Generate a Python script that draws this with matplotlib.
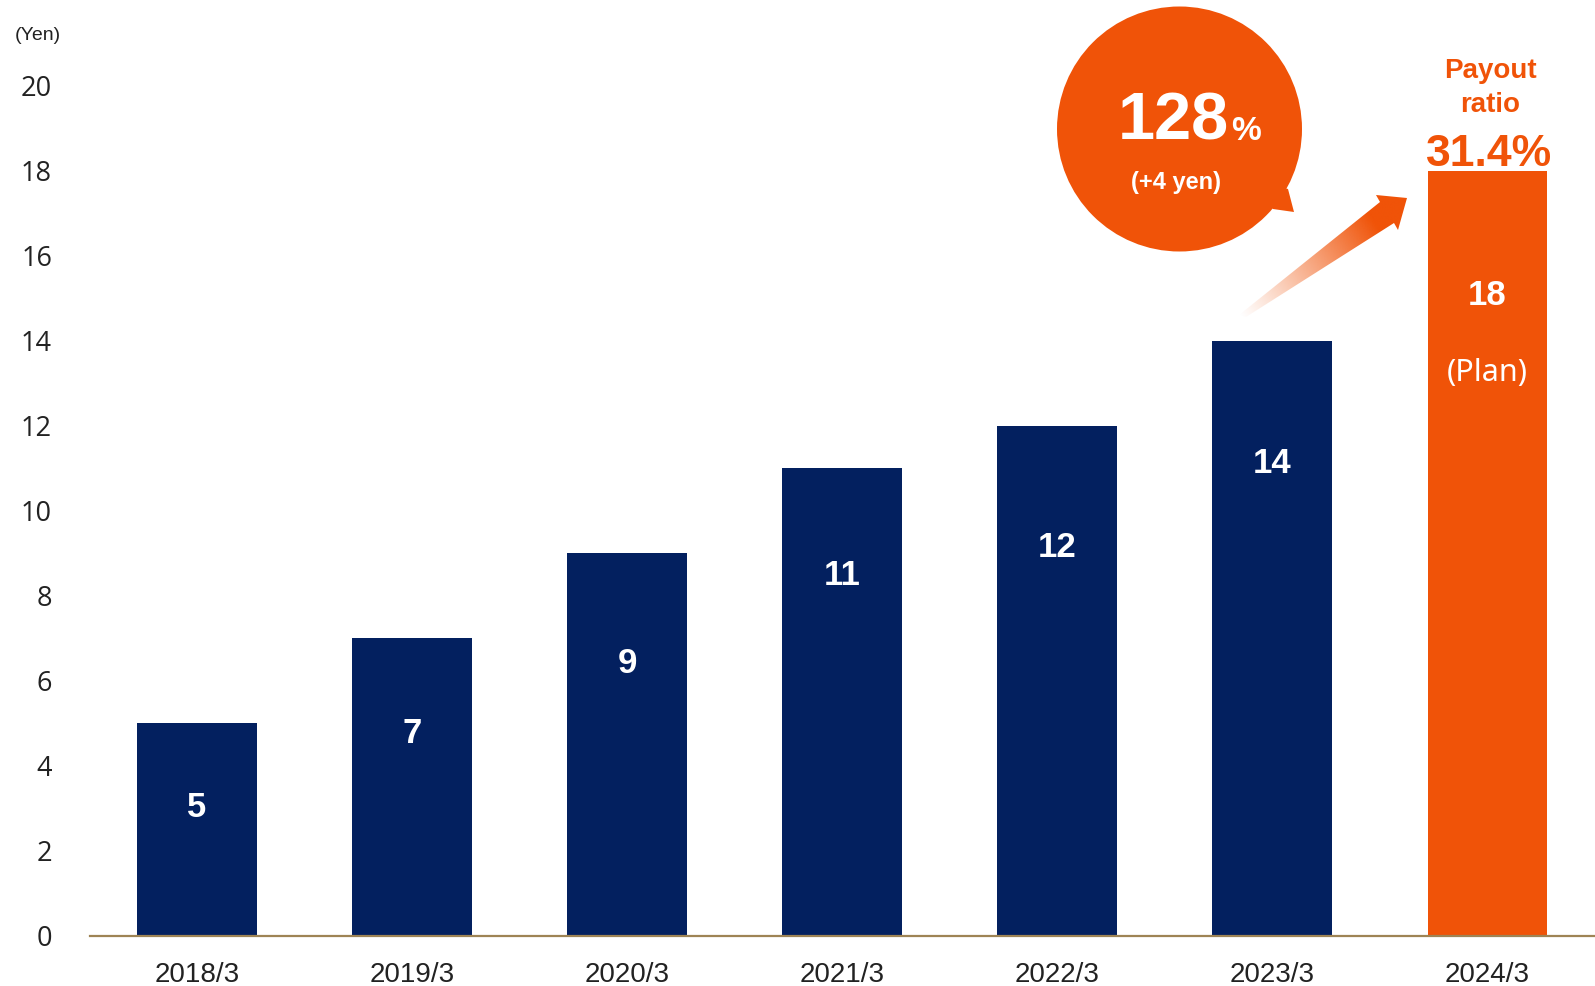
import matplotlib
matplotlib.use('Agg')
import matplotlib.pyplot as plt
import numpy as np
from matplotlib.patches import Circle, Polygon

# ---- data ----
categories = ['2018/3', '2019/3', '2020/3', '2021/3', '2022/3', '2023/3', '2024/3']
dividends = [5, 7, 9, 11, 12, 14, 18]
value_labels = ['5', '7', '9', '11', '12', '14', '18']
yticks = [0, 2, 4, 6, 8, 10, 12, 14, 16, 18, 20]
growth_text = '128'
growth_sub = '(+4 yen)'
payout_text = '31.4%'

# ---- layout / style ----
label_y = [3.02, 4.76, 6.41, 8.47, 9.14, 11.1, 15.07]
plan_y = 13.25
NAVY = '#03205F'
ORANGE = '#F05308'
W, H = 1595, 986
FONT = ['Liberation Sans', 'DejaVu Sans']
TICKFONT = ['Open Sans', 'DejaVu Sans']

fig = plt.figure(figsize=(W / 100, H / 100), dpi=100)
ax = fig.add_axes([89.5 / W, (H - 936) / H, 1 - 89.5 / W, (936 - 85.5) / H])

x = np.arange(len(categories))
colors = [NAVY] * (len(categories) - 1) + [ORANGE]
ax.bar(x, dividends, width=0.557, color=colors, zorder=2)
ax.set_xlim(-0.5, len(categories) - 0.5)
ax.set_ylim(0, 20)
ax.set_yticks(yticks)
ax.set_yticklabels([str(v) for v in yticks], fontsize=19.5, family=TICKFONT, color='#222222')
ax.set_xticks(x)
ax.set_xticklabels(categories, fontsize=20, family=FONT, color='#222222')
ax.tick_params(axis='y', length=0, pad=27)
ax.tick_params(axis='x', length=0, pad=18.5)
for s in ['top', 'right', 'left']:
    ax.spines[s].set_visible(False)
ax.spines['bottom'].set_color('#9E8455')
ax.spines['bottom'].set_linewidth(1.6)

for xi, ly, lab in zip(x, label_y, value_labels):
    ax.text(xi, ly, lab, ha='center', va='center', color='white',
            fontsize=25, fontweight='bold', family=FONT, zorder=3)
ax.text(x[-1], plan_y, '(Plan)', ha='center', va='center', color='white',
        fontsize=22, fontweight='light', family=['Noto Sans', 'DejaVu Sans'], zorder=3)

fig.text(38 / W, 1 - 35 / H, '(Yen)', ha='center', va='center', fontsize=14,
         family=FONT, color='#222222')

# ---- overlay in pixel coordinates for annotations ----
ov = fig.add_axes([0, 0, 1, 1], zorder=5)
ov.patch.set_alpha(0)
ov.axis('off')

# speech bubble
ov.add_patch(Polygon([(1262, 182), (1288, 189), (1294, 212), (1273, 209), (1258, 195)],
                     closed=True, facecolor=ORANGE, edgecolor='none'))
ov.add_patch(Circle((1179.5, 129), 122.5, facecolor=ORANGE, edgecolor='none'))
ov.text(1173, 140, growth_text, ha='center', va='baseline', color='white',
        fontsize=48, fontweight='bold', family=FONT)
ov.text(1231, 140, '%', ha='left', va='baseline', color='white',
        fontsize=24, fontweight='bold', family=FONT)
ov.text(1176, 182, growth_sub, ha='center', va='center', color='white',
        fontsize=17, fontweight='bold', family=FONT)

# payout ratio text
ov.text(1490, 71, 'Payout', ha='center', va='center', color=ORANGE,
        fontsize=20, fontweight='bold', family=FONT)
ov.text(1490, 105, 'ratio', ha='center', va='center', color=ORANGE,
        fontsize=20, fontweight='bold', family=FONT)
ov.text(1489, 166, payout_text, ha='center', va='baseline', color=ORANGE,
        fontsize=32, fontweight='bold', family=FONT)

# gradient arrow
arrow_pts = [(1239, 315), (1380, 202), (1376, 195), (1407, 198),
             (1398, 230), (1394, 223), (1246, 317)]
poly = Polygon(arrow_pts, closed=True, facecolor='none', edgecolor='none')
ov.add_patch(poly)
xs = np.linspace(1230, 1412, 240)
ys = np.linspace(188, 322, 180)
X, Y = np.meshgrid(xs, ys)
dx, dy = 1407 - 1239, 198 - 315
L = np.hypot(dx, dy)
t = ((X - 1239) * dx + (Y - 315) * dy) / (L * L)
alpha = np.clip(t / 0.8, 0, 1) ** 1.1
rgb = matplotlib.colors.to_rgb(ORANGE)
img = np.zeros(X.shape + (4,))
img[..., 0], img[..., 1], img[..., 2] = rgb
img[..., 3] = alpha
im = ov.imshow(img, extent=(1230, 1412, 322, 188), origin='upper',
               aspect='auto', interpolation='bilinear')
im.set_clip_path(poly)

ov.set_xlim(0, W)
ov.set_ylim(H, 0)

fig.savefig('out.png', dpi=100)
